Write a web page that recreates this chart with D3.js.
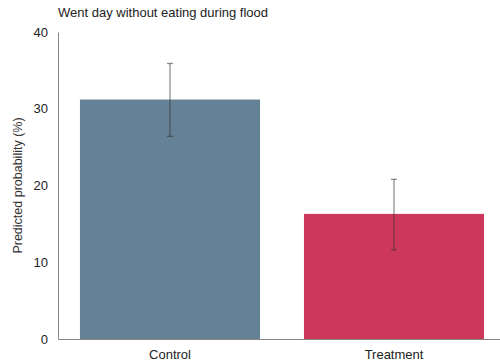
<!DOCTYPE html>
<html>
<head>
<meta charset="utf-8">
<script src="https://cdn.jsdelivr.net/npm/d3@7"></script>
<style>
  html, body { margin: 0; padding: 0; background: #fff; }
  svg { display: block; font-family: "Liberation Sans", Arial, sans-serif; }
</style>
</head>
<body>
<svg id="chart" width="500" height="362"></svg>
<script>
// Predicted probability of going a day without eating, by group
const groups = ["Control", "Treatment"];
const estimates = [31.2, 16.3];
const lowerCI = [26.4, 11.6];
const upperCI = [35.9, 20.8];
const barColors = ["#658196", "#cd375b"];
const yTicks = [0, 10, 20, 30, 40];

const svg = d3.select("#chart");
const margin = { top: 32, left: 58, bottom: 23 };
const H = 362;

const x = d3.scaleBand()
  .domain(groups)
  .range([margin.left, 506])
  .paddingInner(0.196)
  .paddingOuter(0.098);

const y = d3.scaleLinear()
  .domain([0, 40])
  .range([H - margin.bottom, margin.top]);

// Title
svg.append("text")
  .attr("x", 58).attr("y", 17)
  .attr("font-size", 13)
  .attr("fill", "#222")
  .text("Went day without eating during flood");

// Bars
const data = groups.map((g, i) => ({ g, v: estimates[i], lo: lowerCI[i], hi: upperCI[i], c: barColors[i] }));

svg.append("g").selectAll("rect").data(data).join("rect")
  .attr("x", d => x(d.g))
  .attr("width", x.bandwidth())
  .attr("y", d => y(d.v))
  .attr("height", d => y(0) - y(d.v))
  .attr("fill", d => d.c);

// Confidence intervals
const eb = svg.append("g")
  .attr("stroke", "#333")
  .attr("stroke-opacity", 0.55)
  .attr("stroke-width", 1.3);
data.forEach(d => {
  const cx = x(d.g) + x.bandwidth() / 2;
  eb.append("line").attr("x1", cx).attr("x2", cx).attr("y1", y(d.lo)).attr("y2", y(d.hi));
  eb.append("line").attr("x1", cx - 3).attr("x2", cx + 3).attr("y1", y(d.lo)).attr("y2", y(d.lo));
  eb.append("line").attr("x1", cx - 3).attr("x2", cx + 3).attr("y1", y(d.hi)).attr("y2", y(d.hi));
});

// Y axis
const yAxis = svg.append("g")
  .attr("transform", `translate(${margin.left},0)`)
  .call(d3.axisLeft(y).tickValues(yTicks).tickSize(0).tickPadding(10));
yAxis.select(".domain").attr("stroke", "#888").attr("stroke-width", 1);
yAxis.selectAll("text").attr("font-size", 13).attr("fill", "#222")
  .attr("font-family", "Liberation Sans, Arial, sans-serif");

// X axis
const xAxis = svg.append("g")
  .attr("transform", `translate(0,${y(0)})`)
  .call(d3.axisBottom(x).tickSize(0).tickPadding(11));
xAxis.select(".domain").attr("stroke", "#888").attr("stroke-width", 1);
xAxis.selectAll("text").attr("font-size", 13).attr("fill", "#222")
  .attr("font-family", "Liberation Sans, Arial, sans-serif");

// Y axis title
svg.append("text")
  .attr("transform", `translate(22,${(y(0) + y(40)) / 2}) rotate(-90)`)
  .attr("text-anchor", "middle")
  .attr("font-size", 12.5)
  .attr("fill", "#333")
  .text("Predicted probability (%)");
</script>
</body>
</html>
